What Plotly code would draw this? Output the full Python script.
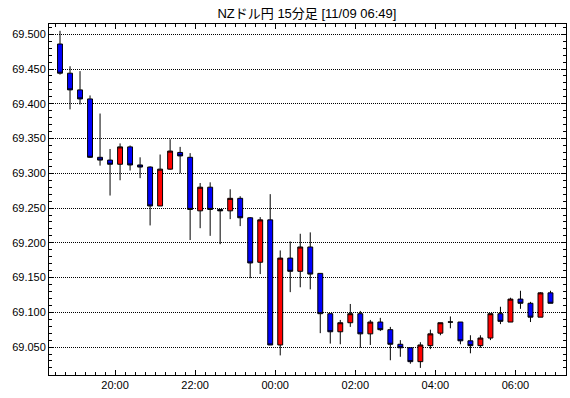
import plotly.graph_objects as go

# 15-minute candles, index 0 = first candle (18:45), last = 06:45
idx = list(range(50))
opens = [69.486, 69.444, 69.420, 69.407, 69.323, 69.319, 69.313, 69.338, 69.312, 69.309,
         69.253, 69.306, 69.330, 69.323, 69.246, 69.280, 69.248, 69.246, 69.264, 69.236,
         69.172, 69.233, 69.053, 69.178, 69.159, 69.194, 69.156, 69.098, 69.072, 69.085,
         69.098, 69.069, 69.086, 69.075, 69.054, 69.049, 69.029, 69.052, 69.070, 69.086,
         69.086, 69.059, 69.052, 69.063, 69.098, 69.086, 69.119, 69.113, 69.093, 69.128]
highs = [69.505, 69.454, 69.447, 69.412, 69.386, 69.335, 69.343, 69.340, 69.323, 69.310,
         69.327, 69.349, 69.338, 69.329, 69.286, 69.287, 69.248, 69.277, 69.267, 69.237,
         69.237, 69.270, 69.189, 69.202, 69.213, 69.215, 69.156, 69.098, 69.089, 69.112,
         69.102, 69.089, 69.092, 69.079, 69.060, 69.049, 69.057, 69.075, 69.085, 69.094,
         69.086, 69.067, 69.067, 69.098, 69.108, 69.121, 69.131, 69.115, 69.129, 69.131]
lows = [69.442, 69.392, 69.399, 69.322, 69.311, 69.268, 69.290, 69.304, 69.293, 69.225,
        69.253, 69.305, 69.300, 69.204, 69.221, 69.210, 69.198, 69.234, 69.224, 69.149,
        69.155, 69.053, 69.038, 69.129, 69.136, 69.133, 69.070, 69.055, 69.054, 69.079,
        69.049, 69.053, 69.073, 69.031, 69.036, 69.026, 69.020, 69.047, 69.067, 69.077,
        69.054, 69.041, 69.049, 69.060, 69.083, 69.086, 69.105, 69.086, 69.093, 69.113]
closes = [69.444, 69.420, 69.407, 69.323, 69.319, 69.313, 69.338, 69.312, 69.309, 69.253,
          69.306, 69.332, 69.325, 69.248, 69.280, 69.248, 69.246, 69.264, 69.236, 69.171,
          69.233, 69.053, 69.178, 69.159, 69.194, 69.155, 69.098, 69.072, 69.085, 69.098,
          69.069, 69.086, 69.075, 69.054, 69.049, 69.029, 69.053, 69.069, 69.085, 69.086,
          69.059, 69.052, 69.063, 69.098, 69.087, 69.119, 69.113, 69.093, 69.128, 69.113]

tick_pos = [5.5, 13.5, 21.5, 29.5, 37.5, 45.5]
tick_labels = ["20:00", "22:00", "00:00", "02:00", "04:00", "06:00"]
title_text = "NZドル円 15分足 [11/09 06:49]"

fig = go.Figure(go.Candlestick(
    x=idx, open=opens, high=highs, low=lows, close=closes,
    increasing=dict(fillcolor="#FF0000", line=dict(color="black", width=1)),
    decreasing=dict(fillcolor="#0000FF", line=dict(color="black", width=1)),
    whiskerwidth=0, showlegend=False, hoverinfo="skip",
))

font_family = "Liberation Sans, Noto Sans CJK JP, sans-serif"
fig.update_layout(
    width=570, height=398,
    margin=dict(l=49, r=4, t=24, b=23),
    paper_bgcolor="white", plot_bgcolor="white",
    font=dict(family=font_family, size=11, color="black"),
    title=dict(text=title_text, x=0.5385, xanchor="center", y=1 - 13/398,
               yref="container", yanchor="middle",
               font=dict(family=font_family, size=13, color="black")),
    xaxis=dict(
        range=[-1.1, 50.55], rangeslider=dict(visible=False),
        tickmode="array", tickvals=tick_pos, ticktext=tick_labels,
        ticks="inside", ticklen=5, tickcolor="black",
        showgrid=False, zeroline=False,
        showline=True, linecolor="black", linewidth=1, mirror="ticks",
        minor=dict(tickmode="linear", tick0=0.5, dtick=1, ticks="inside",
                   ticklen=3, tickcolor="black", showgrid=False),
    ),
    yaxis=dict(
        range=[69.0098, 69.5148], tickmode="linear", tick0=69.0, dtick=0.05,
        tickformat=".3f",
        ticks="inside", ticklen=5, tickcolor="black",
        showgrid=True, gridcolor="black", griddash="1px,1px", gridwidth=1,
        zeroline=False,
        showline=True, linecolor="black", linewidth=1, mirror="ticks",
        minor=dict(tickmode="linear", tick0=69.0, dtick=0.01, ticks="inside",
                   ticklen=3, tickcolor="black", showgrid=False),
    ),
)

fig.write_html("out.html")
